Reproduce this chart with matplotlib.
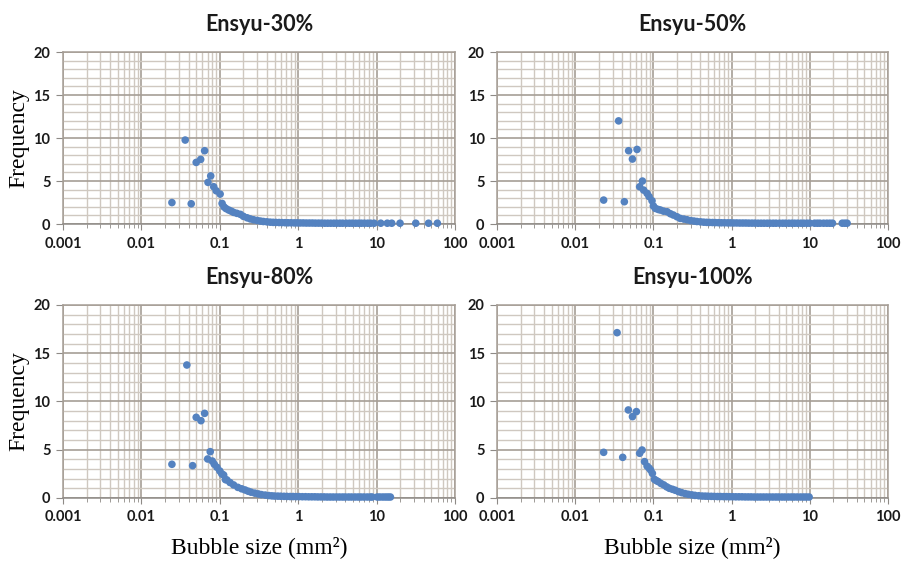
import matplotlib.pyplot as plt
from matplotlib.ticker import FixedLocator, NullFormatter

# bubble size distributions
titles = ["Ensyu-30%", "Ensyu-50%", "Ensyu-80%", "Ensyu-100%"]

x30 = [0.0245, 0.0362, 0.0432, 0.050, 0.057, 0.064, 0.0707, 0.0766, 0.0836, 0.090,
       0.101, 0.107, 0.113, 0.12, 0.13, 0.14, 0.15, 0.165, 0.183, 0.20, 0.223, 0.245,
       0.27, 0.30, 0.33, 0.36, 0.40, 0.44, 0.48, 0.52, 0.57, 0.62, 0.68, 0.74, 0.81,
       0.89, 0.97, 1.06, 1.16, 1.27, 1.39, 1.52, 1.66, 1.82, 1.99, 2.18, 2.38, 2.6,
       2.85, 3.1, 3.4, 3.7, 4.1, 4.5, 4.9, 5.4, 5.9, 6.4, 7.0, 7.7, 8.4, 9.3,
       11.3, 13.7, 15.6, 19.9, 31.6, 46.0, 59.6]
y30 = [2.5, 9.77, 2.36, 7.17, 7.52, 8.53, 4.85, 5.6, 4.34, 3.87,
       3.49, 2.4, 2.0, 1.8, 1.63, 1.5, 1.36, 1.25, 1.13, 0.9, 0.73, 0.6,
       0.5, 0.42, 0.35, 0.3, 0.26, 0.22, 0.2, 0.19, 0.18, 0.17, 0.16, 0.15, 0.15,
       0.14, 0.14, 0.13, 0.13, 0.12, 0.12, 0.12, 0.11, 0.11, 0.11, 0.1, 0.1, 0.1,
       0.1, 0.1, 0.1, 0.1, 0.1, 0.1, 0.1, 0.1, 0.1, 0.1, 0.1, 0.1, 0.1, 0.1,
       0.1, 0.1, 0.1, 0.1, 0.1, 0.1, 0.1]

x50 = [0.0231, 0.0359, 0.0425, 0.0482, 0.0539, 0.0618, 0.0667, 0.0723, 0.075, 0.083,
       0.088, 0.096, 0.100, 0.106, 0.115, 0.123, 0.135, 0.15, 0.165, 0.18, 0.20, 0.22,
       0.245, 0.27, 0.30, 0.33, 0.36, 0.40, 0.44, 0.48, 0.52, 0.57, 0.62, 0.68, 0.74,
       0.81, 0.89, 0.97, 1.06, 1.16, 1.27, 1.39, 1.52, 1.66, 1.82, 1.99, 2.18, 2.38,
       2.6, 2.85, 3.1, 3.4, 3.7, 4.1, 4.5, 4.9, 5.4, 5.9, 6.4, 7.0, 7.7, 8.4, 9.2, 10.0,
       11.5, 12.5, 13.5, 15.0, 16.5, 18.0, 19.5, 26.0, 28.0, 30.0]
y50 = [2.79, 12.0, 2.6, 8.53, 7.56, 8.68, 4.34, 5.0, 3.95, 3.57,
       3.2, 2.71, 2.1, 1.82, 1.7, 1.63, 1.5, 1.43, 1.2, 1.05, 0.85, 0.66,
       0.58, 0.5, 0.4, 0.35, 0.3, 0.26, 0.22, 0.2, 0.19, 0.18, 0.17, 0.16, 0.15,
       0.15, 0.14, 0.14, 0.13, 0.13, 0.12, 0.12, 0.12, 0.11, 0.11, 0.11, 0.1, 0.1,
       0.1, 0.1, 0.1, 0.1, 0.1, 0.1, 0.1, 0.1, 0.1, 0.1, 0.1, 0.1, 0.1, 0.1, 0.1, 0.1,
       0.1, 0.1, 0.1, 0.1, 0.1, 0.1, 0.1, 0.1, 0.1, 0.1]

x80 = [0.0245, 0.038, 0.045, 0.050, 0.0575, 0.064, 0.070, 0.0755, 0.080, 0.085,
       0.092, 0.100, 0.106, 0.112, 0.118, 0.123, 0.135, 0.15, 0.17, 0.19, 0.21, 0.23,
       0.25, 0.28, 0.31, 0.34, 0.38, 0.42, 0.46, 0.50, 0.55, 0.60, 0.66, 0.72, 0.79,
       0.86, 0.94, 1.03, 1.13, 1.24, 1.36, 1.49, 1.63, 1.78, 1.95, 2.14, 2.34, 2.56,
       2.8, 3.07, 3.36, 3.68, 4.0, 4.4, 4.8, 5.3, 5.8, 6.3, 6.9, 7.6, 8.3, 8.8,
       10.2, 11.0, 12.0, 13.0, 14.0, 15.0]
y80 = [3.49, 13.78, 3.35, 8.36, 8.01, 8.77, 4.04, 4.8, 3.83, 3.5,
       3.18, 2.8, 2.5, 2.38, 1.9, 1.87, 1.6, 1.35, 1.1, 0.95, 0.83, 0.7,
       0.6, 0.5, 0.42, 0.35, 0.3, 0.25, 0.22, 0.2, 0.19, 0.18, 0.17, 0.16, 0.15,
       0.15, 0.14, 0.14, 0.13, 0.13, 0.12, 0.12, 0.12, 0.11, 0.11, 0.11, 0.1, 0.1,
       0.1, 0.1, 0.1, 0.1, 0.1, 0.1, 0.1, 0.1, 0.1, 0.1, 0.1, 0.1, 0.1, 0.1,
       0.1, 0.1, 0.1, 0.1, 0.1, 0.1]

x100 = [0.0231, 0.0343, 0.0405, 0.0478, 0.054, 0.0606, 0.0667, 0.0716, 0.077, 0.083,
        0.088, 0.092, 0.097, 0.103, 0.109, 0.115, 0.125, 0.136, 0.148, 0.16, 0.175, 0.19,
        0.21, 0.23, 0.255, 0.28, 0.31, 0.34, 0.38, 0.42, 0.46, 0.50, 0.55, 0.60, 0.66,
        0.72, 0.79, 0.86, 0.94, 1.03, 1.13, 1.24, 1.36, 1.49, 1.63, 1.78, 1.95, 2.14,
        2.34, 2.56, 2.8, 3.07, 3.36, 3.68, 4.0, 4.4, 4.8, 5.3, 5.8, 6.3, 6.9, 7.6,
        8.3, 9.0, 9.8]
y100 = [4.73, 17.13, 4.21, 9.12, 8.43, 8.95, 4.63, 4.97, 3.77, 3.3,
        3.1, 2.9, 2.55, 1.93, 1.8, 1.7, 1.5, 1.35, 1.15, 1.0, 0.9, 0.8,
        0.65, 0.55, 0.45, 0.38, 0.32, 0.27, 0.23, 0.2, 0.19, 0.18, 0.17, 0.16, 0.15,
        0.15, 0.14, 0.14, 0.13, 0.13, 0.12, 0.12, 0.12, 0.11, 0.11, 0.11, 0.1, 0.1,
        0.1, 0.1, 0.1, 0.1, 0.1, 0.1, 0.1, 0.1, 0.1, 0.1, 0.1, 0.1, 0.1, 0.1,
        0.1, 0.1, 0.1]

xs = [x30, x50, x80, x100]
ys = [y30, y50, y80, y100]

x_ticks = [0.001, 0.01, 0.1, 1, 10, 100]
x_ticklabels = ["0.001", "0.01", "0.1", "1", "10", "100"]
y_ticks = [0, 5, 10, 15, 20]

dot_color = "#5482C0"
major_grid = "#A69E96"
minor_grid = "#CFC8C0"

fig = plt.figure(figsize=(9.04, 5.63), dpi=100)

# axes boxes in figure fractions (left, bottom, width, height)
boxes = [[0.0697, 0.602, 0.4336, 0.3055],
         [0.5498, 0.602, 0.4325, 0.3055],
         [0.0697, 0.1155, 0.4336, 0.3428],
         [0.5498, 0.1155, 0.4325, 0.3428]]

minor_x = [m * 10.0 ** e for e in range(-3, 2) for m in range(2, 10)]
minor_y = [v for v in range(0, 21) if v % 5 != 0]

for i, box in enumerate(boxes):
    ax = fig.add_axes(box)
    ax.set_xscale("log")
    ax.set_xlim(0.001, 100)
    ax.set_ylim(0, 20)

    ax.xaxis.set_major_locator(FixedLocator(x_ticks))
    ax.xaxis.set_minor_locator(FixedLocator(minor_x))
    ax.xaxis.set_minor_formatter(NullFormatter())
    ax.set_xticks(x_ticks)
    ax.set_xticklabels(x_ticklabels)
    ax.yaxis.set_major_locator(FixedLocator(y_ticks))
    ax.yaxis.set_minor_locator(FixedLocator(minor_y))

    ax.grid(True, which="major", color=major_grid, lw=1.2)
    ax.grid(True, which="minor", color=minor_grid, lw=1.0)
    ax.set_axisbelow(True)

    for s in ax.spines.values():
        s.set_color(major_grid)
        s.set_linewidth(1.1)
    ax.spines["bottom"].set_color("#8E8A86")

    ax.tick_params(axis="x", which="major", length=4, color="#8E8A86", pad=5)
    ax.tick_params(axis="x", which="minor", length=3, color="#8E8A86")
    ax.tick_params(axis="y", which="major", length=5, color="#8E8A86", pad=4)
    ax.tick_params(axis="y", which="minor", length=0)
    for lab in ax.get_xticklabels() + ax.get_yticklabels():
        lab.set_fontfamily("Lato")
        lab.set_fontweight("bold")
        lab.set_fontsize(10.5)
        lab.set_color("#1A1A1A")

    ax.scatter(xs[i], ys[i], s=30, color=dot_color, edgecolors="none",
               clip_on=False, zorder=3)

    ax.set_title(titles[i], fontfamily="Lato", fontweight="bold", fontsize=15.5,
                 color="#1A1A1A", pad=15)

    if i % 2 == 0:
        ax.set_ylabel("Frequency", fontfamily="Liberation Serif", fontsize=17,
                      labelpad=3)
    if i >= 2:
        ax.set_xlabel("Bubble size (mm\u00b2)", fontfamily="Liberation Serif",
                      fontsize=17, labelpad=8)

fig.savefig("out.png", dpi=100)
